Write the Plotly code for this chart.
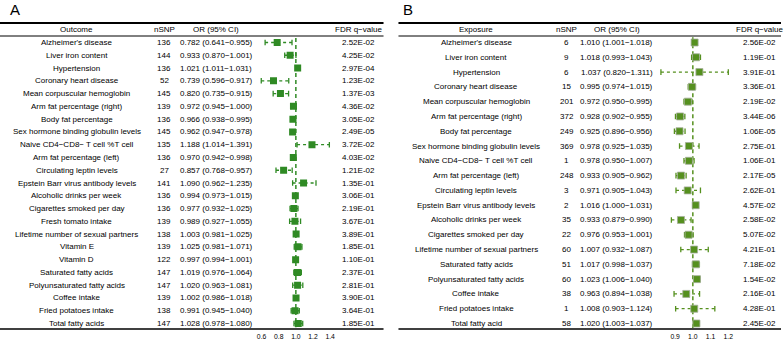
import plotly.graph_objects as go

W, H = 784, 341

# ---------------- Panel A data ----------------
a_outcome = ["Alzheimer's disease", "Liver iron content", "Hypertension", "Coronary heart disease",
             "Mean corpuscular hemoglobin", "Arm fat percentage (right)", "Body fat percentage",
             "Sex hormone binding globulin levels", "Naive CD4\u2212CD8\u2212 T cell %T cell",
             "Arm fat percentage (left)", "Circulating leptin levels", "Epstein Barr virus antibody levels",
             "Alcoholic drinks per week", "Cigarettes smoked per day", "Fresh tomato intake",
             "Lifetime number of sexual partners", "Vitamin E", "Vitamin D", "Saturated fatty acids",
             "Polyunsaturated fatty acids", "Coffee intake", "Fried potatoes intake", "Total fatty acids"]
a_nsnp = [136, 144, 136, 52, 145, 139, 136, 145, 135, 136, 27, 141, 136, 136, 139, 138, 139, 122, 147, 147, 139, 138, 147]
a_or = [0.782, 0.933, 1.021, 0.739, 0.820, 0.972, 0.966, 0.962, 1.188, 0.970, 0.857, 1.090, 0.994, 0.977,
        0.989, 1.003, 1.025, 0.997, 1.019, 1.020, 1.002, 0.991, 1.028]
a_lo = [0.641, 0.870, 1.011, 0.596, 0.735, 0.945, 0.938, 0.947, 1.014, 0.942, 0.768, 0.962, 0.973, 0.932,
        0.927, 0.981, 0.981, 0.994, 0.976, 0.963, 0.986, 0.945, 0.978]
a_hi = [0.955, 1.001, 1.031, 0.917, 0.915, 1.000, 0.995, 0.978, 1.391, 0.998, 0.957, 1.235, 1.015, 1.025,
        1.055, 1.025, 1.071, 1.001, 1.064, 1.081, 1.018, 1.040, 1.080]
a_fdr = ["2.52E-02", "4.25E-02", "2.97E-04", "1.23E-02", "1.37E-03", "4.36E-02", "3.05E-02", "2.49E-05",
         "3.72E-02", "4.03E-02", "1.21E-02", "1.35E-01", "3.06E-01", "2.19E-01", "3.67E-01", "3.89E-01",
         "1.85E-01", "1.10E-01", "2.37E-01", "2.81E-01", "3.90E-01", "3.64E-01", "1.85E-01"]
a_ticks = [0.6, 0.8, 1.0, 1.2, 1.4]

# ---------------- Panel B data ----------------
b_exposure = ["Alzheimer's disease", "Liver iron content", "Hypertension", "Coronary heart disease",
              "Mean corpuscular hemoglobin", "Arm fat percentage (right)", "Body fat percentage",
              "Sex hormone binding globulin levels", "Naive CD4\u2212CD8\u2212 T cell %T cell",
              "Arm fat percentage (left)", "Circulating leptin levels", "Epstein Barr virus antibody levels",
              "Alcoholic drinks per week", "Cigarettes smoked per day", "Lifetime number of sexual partners",
              "Saturated fatty acids", "Polyunsaturated fatty acids", "Coffee intake",
              "Fried potatoes intake", "Total fatty acid"]
b_nsnp = [6, 9, 6, 15, 201, 372, 249, 369, 1, 248, 3, 2, 35, 22, 60, 51, 60, 38, 1, 58]
b_or = [1.010, 1.018, 1.037, 0.995, 0.972, 0.928, 0.925, 0.978, 0.978, 0.933, 0.971, 1.016, 0.933, 0.976,
        1.007, 1.017, 1.023, 0.963, 1.008, 1.020]
b_lo = [1.001, 0.993, 0.820, 0.974, 0.950, 0.902, 0.896, 0.925, 0.950, 0.905, 0.905, 1.000, 0.879, 0.953,
        0.932, 0.998, 1.006, 0.894, 0.903, 1.003]
b_hi = [1.018, 1.043, 1.311, 1.015, 0.995, 0.955, 0.956, 1.035, 1.007, 0.962, 1.043, 1.031, 0.990, 1.001,
        1.087, 1.037, 1.040, 1.038, 1.124, 1.037]
b_fdr = ["2.56E-02", "1.19E-01", "3.91E-01", "3.36E-01", "2.19E-02", "3.44E-06", "1.06E-05", "2.75E-01",
         "1.06E-01", "2.17E-05", "2.62E-01", "4.57E-02", "2.58E-02", "5.07E-02", "4.21E-01", "7.18E-02",
         "1.54E-02", "2.16E-01", "4.28E-01", "2.45E-02"]
b_ticks = [0.9, 1.0, 1.1, 1.2]

# ---------------- styling / layout constants ----------------
FONT = "Liberation Sans, Arial, sans-serif"
FS = 8
GREEN_A = "#2f8a24"
GREEN_B = "#55901e"
ROW_TOP, ROW_BOT = 42.5, 323.5
HEAD_Y, TOP_LINE, HEAD_LINE, BOT_LINE = 29.5, 23, 36, 329


def yrange(n):
    pitch = (ROW_BOT - ROW_TOP) / (n - 1)
    return [(H - ROW_TOP) / pitch, -ROW_TOP / pitch]


def xdomain(rng, one_px, scale):
    return [(one_px + (rng[0] - 1) * scale) / W, (one_px + (rng[1] - 1) * scale) / W]


A_RANGE, A_ONE, A_SCALE = [0.55, 1.45], 297, 86
B_RANGE, B_ONE, B_SCALE = [0.785, 1.21], 695.5, 178
B_CLIP = [0.8, 1.2]

fig = go.Figure()


def add_forest(orv, lo, hi, color, xa, ya, clip=None, mline=None):
    n = len(orv)
    if clip:
        lo = [max(v, clip[0]) for v in lo]
        hi = [min(v, clip[1]) for v in hi]
    lx, ly = [], []
    for i in range(n):
        lx += [lo[i], hi[i], None]
        ly += [i, i, None]
    fig.add_trace(go.Scatter(x=lx, y=ly, mode="lines", xaxis=xa, yaxis=ya,
                             line=dict(color=color, width=1.3, dash="3px,3px"),
                             hoverinfo="skip", showlegend=False))
    fig.add_trace(go.Scatter(x=lo + hi, y=list(range(n)) * 2, mode="markers", xaxis=xa, yaxis=ya,
                             marker=dict(symbol="line-ns", size=4, line=dict(color=color, width=1.3)),
                             hoverinfo="skip", showlegend=False))
    fig.add_trace(go.Scatter(x=orv, y=list(range(n)), mode="markers", xaxis=xa, yaxis=ya,
                             marker=dict(symbol="square", size=7, color=color,
                                         line=mline or dict(width=0)),
                             showlegend=False))
    fig.add_shape(type="line", xref=xa, yref=ya, x0=1, x1=1, y0=-0.35, y1=n - 1 + 0.3,
                  line=dict(color=color, width=1.5, dash="4px,3px"), layer="below")


add_forest(a_or, a_lo, a_hi, GREEN_A, "x", "y")
add_forest(b_or, b_lo, b_hi, GREEN_B, "x2", "y2", clip=B_CLIP,
           mline=dict(color="rgba(165,175,155,0.8)", width=1))


def ann(text, xpx, y, yref, size=FS, xanchor="center"):
    fig.add_annotation(text=text, x=xpx / W, xref="paper", y=y, yref=yref, showarrow=False,
                       xanchor=xanchor, yanchor="middle", font=dict(family=FONT, size=size, color="black"))


def table(names, nsnp, orv, lo, hi, fdr, yref, cols, header, x0, x1):
    name_x, n_x, or_x, fdr_x = cols
    hy = 1 - HEAD_Y / H
    ann(header, name_x, hy, "paper")
    ann("nSNP", n_x, hy, "paper")
    ann("OR (95% CI)", or_x, hy, "paper")
    ann("FDR q\u2212value", fdr_x, hy, "paper")
    for i in range(len(names)):
        ann(names[i], name_x, i, yref)
        ann(str(nsnp[i]), n_x, i, yref)
        ann(f"{orv[i]:.3f} ({lo[i]:.3f}\u2212{hi[i]:.3f})", or_x, i, yref)
        ann(fdr[i], fdr_x, i, yref)
    for ypx, w in [(TOP_LINE, 2), (HEAD_LINE, 1), (BOT_LINE, 1.5)]:
        fig.add_shape(type="line", xref="paper", yref="paper", x0=x0 / W, x1=x1 / W,
                      y0=1 - ypx / H, y1=1 - ypx / H, line=dict(color="black", width=w))


table(a_outcome, a_nsnp, a_or, a_lo, a_hi, a_fdr, "y", (77, 165, 217, 360), "Outcome", 0, 385)
table(b_exposure, b_nsnp, b_or, b_lo, b_hi, b_fdr, "y2", (478, 569, 619, 762), "Exposure", 400, 784)

ann("A", 15, 1 - 9.5 / H, "paper", size=15)
ann("B", 410, 1 - 10 / H, "paper", size=15)

axis_common = dict(anchor="free", position=1 - BOT_LINE / H, showline=False, showgrid=False,
                   zeroline=False, ticks="outside", ticklen=1, tickcolor="rgba(0,0,0,0)",
                   tickfont=dict(family=FONT, size=6.8, color="black"))
fig.update_layout(
    width=W, height=H, margin=dict(l=0, r=0, t=0, b=0),
    paper_bgcolor="white", plot_bgcolor="rgba(0,0,0,0)",
    xaxis=dict(domain=xdomain(A_RANGE, A_ONE, A_SCALE), range=A_RANGE, tickvals=a_ticks,
               ticktext=[f"{v:.1f}" for v in a_ticks], **axis_common),
    xaxis2=dict(domain=xdomain(B_RANGE, B_ONE, B_SCALE), range=B_RANGE, tickvals=b_ticks,
                ticktext=[f"{v:.1f}" for v in b_ticks], **axis_common),
    yaxis=dict(domain=[0, 1], range=yrange(len(a_or)), visible=False, anchor="x"),
    yaxis2=dict(domain=[0, 1], range=yrange(len(b_or)), visible=False, anchor="x2"),
)

fig.write_html("out.html")
